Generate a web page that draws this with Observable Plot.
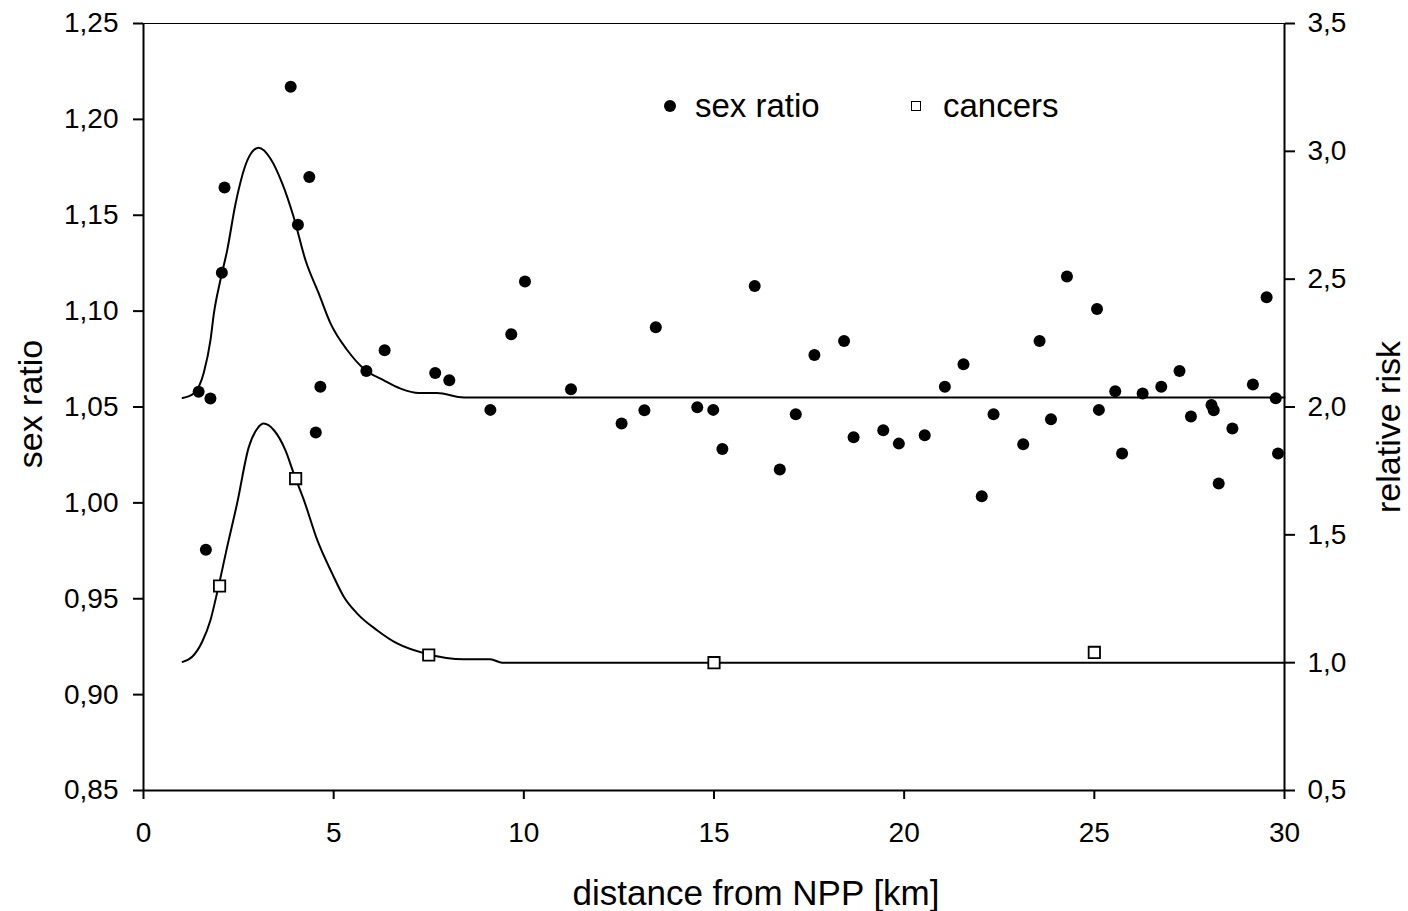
<!DOCTYPE html>
<html>
<head>
<meta charset="utf-8">
<script src="https://cdn.jsdelivr.net/npm/d3@7"></script>
<script src="https://cdn.jsdelivr.net/npm/@observablehq/plot@0.6"></script>
<style>
  html, body { margin: 0; padding: 0; background: #fff; }
  #wrap { position: relative; width: 1408px; height: 911px; font-family: "Liberation Sans", Arial, sans-serif; }
  .lg { position: absolute; font-size: 33px; line-height: 33px; color: #000; white-space: nowrap; }
</style>
</head>
<body>
<div id="wrap"></div>
<script>
// ---- data ----
const xTicks = [0, 5, 10, 15, 20, 25, 30];
const leftTicks = [0.85, 0.90, 0.95, 1.00, 1.05, 1.10, 1.15, 1.20, 1.25];
const rightTicks = [0.5, 1.0, 1.5, 2.0, 2.5, 3.0, 3.5];

// sex ratio observations
const srX = [1.45,1.64,1.76,2.06,2.13,3.87,4.06,4.36,4.53,4.65,5.86,6.34,7.67,8.04,9.12,9.67,10.03,11.24,12.57,13.17,13.47,14.56,14.98,15.22,16.07,16.73,17.15,17.64,18.42,18.67,19.45,19.86,20.54,21.07,21.56,22.04,22.35,23.13,23.56,23.86,24.28,25.07,25.12,25.55,25.73,26.27,26.76,27.24,27.54,28.08,28.14,28.27,28.63,29.17,29.53,29.77,29.83];
const srY = [1.058,0.9755,1.0544,1.120,1.1645,1.217,1.145,1.170,1.0367,1.0605,1.0688,1.0796,1.0677,1.0639,1.0485,1.088,1.1155,1.0593,1.0414,1.0483,1.0916,1.0499,1.0485,1.0281,1.1131,1.0174,1.0462,1.0771,1.0844,1.0342,1.0379,1.0309,1.0353,1.0605,1.0723,1.0035,1.0462,1.0306,1.0844,1.0436,1.118,1.1011,1.0485,1.0582,1.0257,1.057,1.0605,1.0688,1.045,1.0511,1.0483,1.0101,1.0388,1.0617,1.1072,1.0546,1.0257];

// cancers relative risk observations (right axis)
const cX = [2, 4, 7.5, 15, 25];
const cRR = [1.30, 1.72, 1.03, 1.00, 1.04];

// fitted curve for sex ratio (left axis)
const fitSrX = [1.03,1.32,1.59,1.76,1.85,2.02,2.2,2.42,2.77,3.03,3.34,3.65,3.95,4.26,4.61,4.92,5.36,5.79,6.32,6.76,7.24,7.72,8.42,30];
const fitSrY = [1.0547,1.057,1.0683,1.0848,1.0987,1.116,1.1317,1.156,1.1803,1.1852,1.1795,1.1665,1.149,1.1265,1.1091,1.0935,1.0796,1.07,1.0639,1.0596,1.0573,1.0573,1.055,1.055];

// fitted curve for relative risk (right axis)
const fitRrX = [1.03,1.28,1.54,1.76,1.95,2.2,2.46,2.77,2.99,3.16,3.43,3.73,3.95,4.22,4.57,4.96,5.27,5.62,6.14,6.67,7.45,8.42,9.12,9.43,30];
const fitRrY = [1.003,1.023,1.081,1.166,1.283,1.453,1.622,1.844,1.915,1.935,1.909,1.831,1.74,1.635,1.479,1.349,1.257,1.192,1.127,1.075,1.034,1.013,1.013,1.0,1.0];

// ---- mapping right axis (0.5..3.5) onto left axis (0.85..1.25) ----
const toLeft = rr => 1.25 - (3.5 - rr) * (0.4 / 3);
const toRight = v => 3.5 - (1.25 - v) * 7.5;
const comma = s => s.replace(".", ",");
const fmt2 = v => comma(d3.format(".2f")(v));
const fmt1 = v => comma(d3.format(".1f")(v));

const sr = srX.map((x, i) => ({x, y: srY[i]}));
const canc = cX.map((x, i) => ({x, y: toLeft(cRR[i])}));
const fitSr = fitSrX.map((x, i) => ({x, y: fitSrY[i]}));
const fitRr = fitRrX.map((x, i) => ({x, y: toLeft(fitRrY[i])}));

const chart = Plot.plot({
  width: 1408,
  height: 911,
  marginLeft: 143,
  marginRight: 124,
  marginTop: 23,
  marginBottom: 121,
  style: {fontFamily: '"Liberation Sans", Arial, sans-serif', fontSize: "28px", color: "#000", background: "#fff", overflow: "visible"},
  x: {domain: [0, 30]},
  y: {domain: [0.85, 1.25]},
  marks: [
    Plot.axisX({ticks: xTicks, tickSize: 9, tickPadding: 23, label: null, strokeWidth: 2, fontSize: 28}),
    Plot.axisY({ticks: leftTicks, tickSize: 10, tickPadding: 15, tickFormat: fmt2, label: null, strokeWidth: 2, fontSize: 28}),
    Plot.axisY({anchor: "right", ticks: rightTicks.map(toLeft), tickFormat: v => fmt1(toRight(v)), tickSize: 10, tickPadding: 13, label: null, strokeWidth: 2, fontSize: 28}),
    Plot.ruleY([1.25], {stroke: "#000", strokeWidth: 1.2}),
    Plot.ruleY([0.85], {stroke: "#000", strokeWidth: 2}),
    Plot.ruleX([0], {stroke: "#000", strokeWidth: 2}),
    Plot.ruleX([30], {stroke: "#000", strokeWidth: 2}),
    Plot.line(fitSr, {x: "x", y: "y", stroke: "#000", strokeWidth: 2, curve: "monotone-x"}),
    Plot.line(fitRr, {x: "x", y: "y", stroke: "#000", strokeWidth: 2, curve: "monotone-x"}),
    Plot.dot(sr, {x: "x", y: "y", r: 6, fill: "#000", stroke: "none"}),
    Plot.dot(canc, {x: "x", y: "y", symbol: "square", r: 6.4, fill: "#fff", stroke: "#000", strokeWidth: 1.8}),
    Plot.text(["sex ratio"], {text: d => d, frameAnchor: "left", dx: -112, dy: -3, rotate: -90, fontSize: 34, textAnchor: "middle", lineAnchor: "middle"}),
    Plot.text(["relative risk"], {text: d => d, frameAnchor: "right", dx: 105, dy: 20, rotate: -90, fontSize: 34, textAnchor: "middle", lineAnchor: "middle"}),
    Plot.text(["distance from NPP [km]"], {text: d => d, frameAnchor: "bottom", dx: 42, dy: 103, fontSize: 35, textAnchor: "middle", lineAnchor: "middle"})
  ]
});

const wrap = document.getElementById("wrap");
wrap.appendChild(chart);

// legend (overlaid inside the plot area)
const legendItems = [
  {label: "sex ratio", kind: "dot", mx: 664, tx: 695},
  {label: "cancers", kind: "square", mx: 911, tx: 943}
];
for (const it of legendItems) {
  const m = document.createElement("div");
  m.style.position = "absolute";
  if (it.kind === "dot") {
    Object.assign(m.style, {left: it.mx + "px", top: "100px", width: "12px", height: "12px", borderRadius: "50%", background: "#000"});
  } else {
    Object.assign(m.style, {left: it.mx + "px", top: "101px", width: "8px", height: "8px", border: "1.6px solid #000", background: "#fff"});
  }
  wrap.appendChild(m);
  const t = document.createElement("div");
  t.className = "lg";
  t.style.left = it.tx + "px";
  t.style.top = "89px";
  t.textContent = it.label;
  wrap.appendChild(t);
}
</script>
</body>
</html>
